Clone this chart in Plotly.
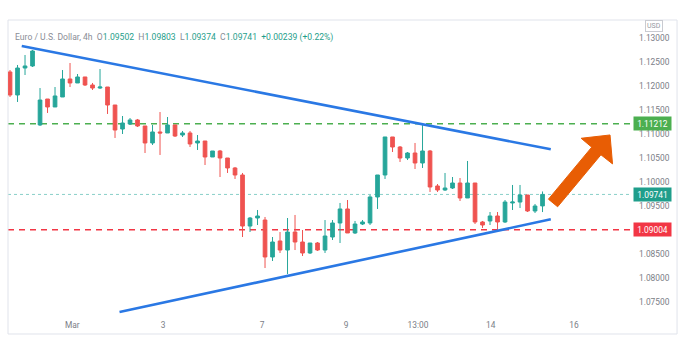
import plotly.graph_objects as go

# ---------------- data ----------------
opens = [1.12292, 1.11813, 1.12375, 1.12417, 1.11188, 1.11729, 1.11563, 1.11771, 1.12146, 1.12063,
         1.12188, 1.12021, 1.11958, 1.11979, 1.11604, 1.11104, 1.11208, 1.11292, 1.11167, 1.10813,
         1.11042, 1.11021, 1.11188, 1.10979, 1.11021, 1.10813, 1.10854, 1.10521, 1.10646, 1.10500,
         1.10292, 1.10146, 1.09083, 1.09250, 1.09208, 1.08438, 1.08771, 1.08583, 1.08958, 1.08750,
         1.08521, 1.08729, 1.08583, 1.08854, 1.09146, 1.09438, 1.08938, 1.09125, 1.09146, 1.09688,
         1.10146, 1.10938, 1.10729, 1.10500, 1.10604, 1.10396, 1.10646, 1.09917, 1.09833, 1.09875,
         1.09979, 1.09667, 1.09979, 1.09167, 1.09188, 1.09292, 1.09167, 1.09563, 1.09583, 1.09729,
         1.09396, 1.09502]
highs = [1.12333, 1.12438, 1.12646, 1.12750, 1.11958, 1.11729, 1.11979, 1.12333, 1.12479, 1.12250,
         1.12188, 1.12063, 1.12354, 1.11979, 1.11604, 1.11375, 1.11333, 1.11313, 1.11167, 1.11188,
         1.11458, 1.11354, 1.11188, 1.11063, 1.11063, 1.10979, 1.10854, 1.10646, 1.10667, 1.10500,
         1.10313, 1.10188, 1.09271, 1.09417, 1.09271, 1.08854, 1.08958, 1.09250, 1.09313, 1.09000,
         1.08729, 1.08750, 1.09208, 1.09208, 1.09563, 1.09625, 1.09188, 1.09208, 1.09729, 1.10146,
         1.10938, 1.10938, 1.10750, 1.10625, 1.10813, 1.11229, 1.10667, 1.09958, 1.10188, 1.10104,
         1.10083, 1.10438, 1.09979, 1.09188, 1.09375, 1.09375, 1.09625, 1.09938, 1.09938, 1.09729,
         1.09542, 1.09803]
lows = [1.11771, 1.11667, 1.12229, 1.12396, 1.11167, 1.11438, 1.11563, 1.11771, 1.11979, 1.12063,
        1.12000, 1.11917, 1.11938, 1.11417, 1.10917, 1.11000, 1.11188, 1.11146, 1.10604, 1.10771,
        1.10563, 1.11021, 1.10938, 1.10938, 1.10729, 1.10667, 1.10354, 1.10521, 1.10104, 1.10188,
        1.10063, 1.08854, 1.08958, 1.09104, 1.08208, 1.08354, 1.08521, 1.08083, 1.08583, 1.08458,
        1.08500, 1.08563, 1.08521, 1.08792, 1.08729, 1.08938, 1.08917, 1.09104, 1.09104, 1.09438,
        1.10063, 1.10625, 1.10417, 1.10458, 1.10271, 1.10292, 1.09792, 1.09792, 1.09813, 1.09854,
        1.09604, 1.09667, 1.09125, 1.09042, 1.09104, 1.09000, 1.09146, 1.09417, 1.09458, 1.09375,
        1.09354, 1.09374]
closes = [1.11813, 1.12375, 1.12417, 1.12729, 1.11708, 1.11563, 1.11792, 1.12146, 1.12063, 1.12188,
          1.12021, 1.11958, 1.11979, 1.11604, 1.11083, 1.11229, 1.11292, 1.11167, 1.10813, 1.11042,
          1.11021, 1.11188, 1.10958, 1.11021, 1.10792, 1.10854, 1.10521, 1.10646, 1.10500, 1.10292,
          1.10146, 1.09083, 1.09250, 1.09292, 1.08438, 1.08750, 1.08583, 1.08958, 1.08750, 1.08521,
          1.08729, 1.08583, 1.08875, 1.09146, 1.09438, 1.08938, 1.09125, 1.09167, 1.09688, 1.10146,
          1.10938, 1.10729, 1.10500, 1.10604, 1.10396, 1.10646, 1.09896, 1.09833, 1.09875, 1.09979,
          1.09667, 1.09979, 1.09167, 1.09104, 1.09292, 1.09167, 1.09583, 1.09583, 1.09729, 1.09396,
          1.09500, 1.09741]
bar_index = list(range(len(opens)))

tick_positions = [8.3, 20.4, 33.6, 44.8, 54.4, 64.1, 75.2]
tick_labels = ["Mar", "3", "7", "9", "13:00", "14", "16"]

# price scale labels (1.09000 sits under the support badge in the original)
price_ticks = [1.075, 1.080, 1.085, 1.095, 1.100, 1.105, 1.110, 1.115, 1.120, 1.125, 1.130]

resistance_level = 1.11212
support_level = 1.09004
last_price = 1.09741

upper_trend_x = [1.56, 72.1]
upper_trend_y = [1.12833, 1.10681]
lower_trend_x = [14.6, 72.1]
lower_trend_y = [1.07292, 1.09223]

arrow_anchor = (72.4, 1.09563)

title_parts = [("Euro / U.S. Dollar, 4h", "gray"), ("  O", "gray"), ("1.09502", "teal"),
               ("  H", "gray"), ("1.09803", "teal"), ("  L", "gray"), ("1.09374", "teal"),
               ("  C", "gray"), ("1.09741", "teal"), ("  +0.00239 (+0.22%)", "teal")]

# ---------------- style ----------------
UP = "#26a69a"
DOWN = "#ef5350"
BLUE = "#2a78e4"
GREEN_LINE = "#4caf50"
RED_LINE = "#f23645"
ORANGE = "#e85d04"
TXT = "#7b7e87"
FONT = "Roboto"

fig = go.Figure()
fig.add_trace(go.Candlestick(
    x=bar_index, open=opens, high=highs, low=lows, close=closes,
    increasing=dict(line=dict(color=UP, width=1), fillcolor=UP),
    decreasing=dict(line=dict(color=DOWN, width=1), fillcolor=DOWN),
    whiskerwidth=0, showlegend=False, hoverinfo="skip",
))

for xs, ys in [(upper_trend_x, upper_trend_y), (lower_trend_x, lower_trend_y)]:
    fig.add_trace(go.Scatter(x=xs, y=ys, mode="lines", line=dict(color=BLUE, width=2.6),
                             showlegend=False, hoverinfo="skip"))

shapes = [
    dict(type="line", xref="paper", x0=0, x1=1, yref="y", y0=resistance_level, y1=resistance_level,
         line=dict(color=GREEN_LINE, width=1.5, dash="6px,5px"), layer="below"),
    dict(type="line", xref="paper", x0=0, x1=1, yref="y", y0=support_level, y1=support_level,
         line=dict(color=RED_LINE, width=1.5, dash="6px,5px"), layer="below"),
    dict(type="line", xref="paper", x0=0, x1=1, yref="y", y0=last_price, y1=last_price,
         line=dict(color="rgba(38,166,154,0.55)", width=1, dash="dot"), layer="below"),
    # chart frame
    dict(type="rect", xref="paper", yref="paper", x0=0, x1=1.0722, y0=-0.0644, y1=1.0,
         line=dict(color="#e0e3eb", width=1), fillcolor="rgba(0,0,0,0)", layer="below"),
    # orange arrow (pixel geometry relative to anchor)
    dict(type="path", xref="x", yref="y", xsizemode="pixel", ysizemode="pixel",
         xanchor=arrow_anchor[0], yanchor=arrow_anchor[1],
         path="M-4.6,3.8 L38.7,55.8 L28.1,64.7 L57,68 L59.5,39.1 L47.9,48.2 L4.6,-3.8 Z",
         fillcolor=ORANGE, line=dict(color=ORANGE, width=1), layer="above"),
]

colors = {"gray": "#8a8d96", "teal": "#1f9e8b"}
title_html = "".join(f"<span style='color:{colors[c]}'>{t}</span>" for t, c in title_parts)

annotations = [
    dict(xref="paper", yref="paper", x=0.008, y=0.942, xanchor="left", yanchor="middle",
         text=title_html, showarrow=False, font=dict(family=FONT, size=8.6, color=TXT)),
    dict(xref="paper", yref="paper", x=1.0345, y=0.978, xanchor="center", yanchor="middle",
         text="USD", showarrow=False, font=dict(family=FONT, size=7, color="#9598a1"),
         bordercolor="#c9cbd1", borderwidth=1, borderpad=1, bgcolor="white"),
]
for lvl, col in [(resistance_level, GREEN_LINE), (last_price, "#1f9e8b"), (support_level, RED_LINE)]:
    annotations.append(dict(xref="paper", yref="y", x=1.002, y=lvl, xanchor="left", yanchor="middle",
                            text=f"{lvl:.5f}", showarrow=False, bgcolor=col, width=35, height=11,
                            borderpad=1, font=dict(family=FONT, size=8.4, color="white")))

fig.update_layout(
    width=681, height=359,
    margin=dict(l=8, r=49, t=20, b=44),
    paper_bgcolor="white", plot_bgcolor="white",
    shapes=shapes, annotations=annotations,
    font=dict(family=FONT, size=8.4, color=TXT),
    xaxis=dict(range=[-0.27, 82.93], showgrid=False, zeroline=False, showline=False,
               tickmode="array", tickvals=tick_positions, ticktext=tick_labels,
               ticks="", ticklabelstandoff=4, rangeslider=dict(visible=False),
               tickfont=dict(family=FONT, size=8.4, color=TXT), fixedrange=True),
    yaxis=dict(range=[1.072292, 1.13375], side="right", showgrid=False, zeroline=False,
               showline=False, tickmode="array", tickvals=price_ticks, tickformat=".5f", ticks="",
               ticklabelstandoff=6, tickfont=dict(family=FONT, size=8.4, color=TXT), fixedrange=True),
    showlegend=False,
)

fig.write_html("out.html", config={"displayModeBar": False},
               post_script="document.body.style.margin='0';document.body.style.padding='0';")
